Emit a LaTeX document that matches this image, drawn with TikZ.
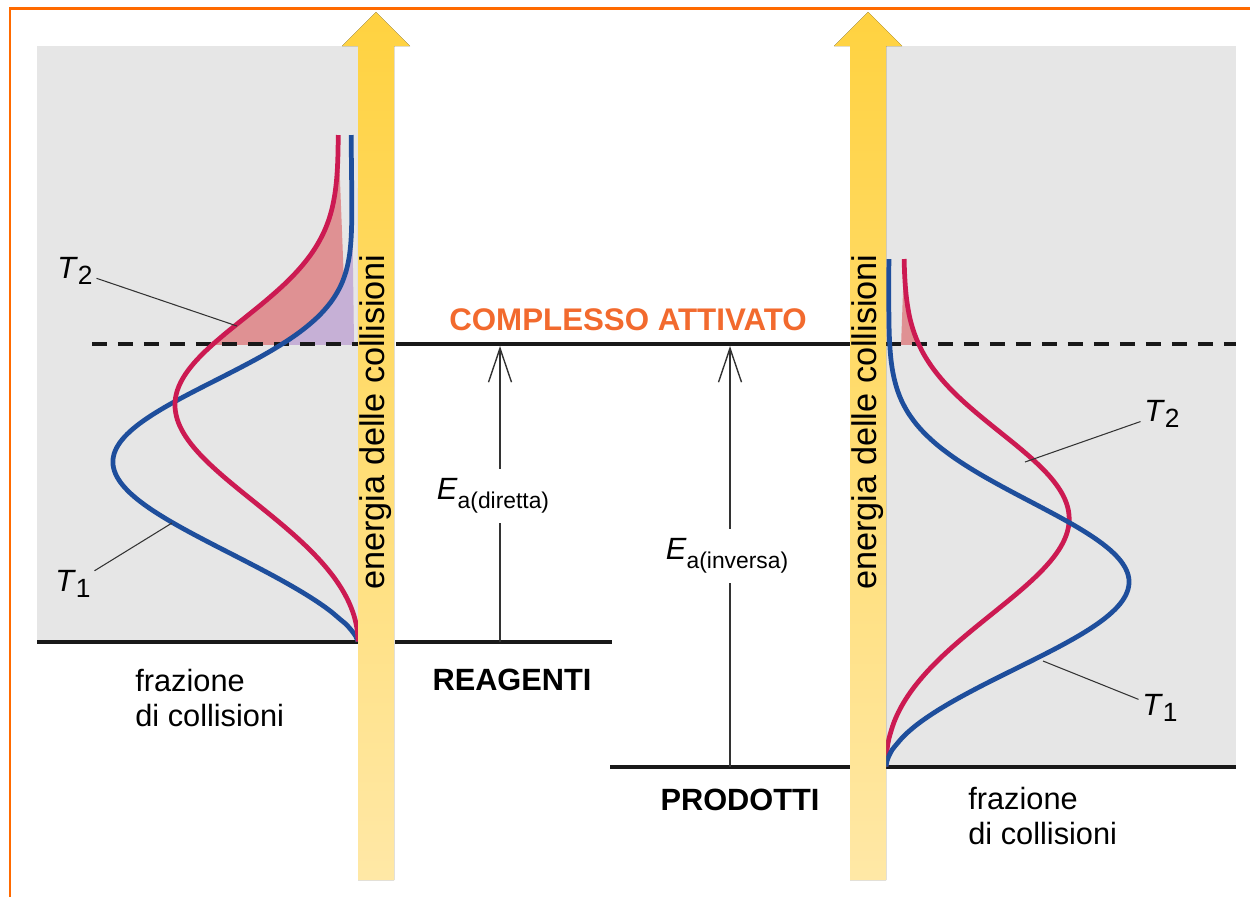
\documentclass[tikz,border=0pt]{standalone}
\usepackage{fontspec}
\setmainfont{Liberation Sans}
\usepackage{tikz}
\usetikzlibrary{arrows.meta,positioning,calc}
\usepackage{xcolor}
\definecolor{cborder}{HTML}{FF6A00}
\definecolor{cpanel}{HTML}{E6E6E6}
\definecolor{cred}{HTML}{CC1A52}
\definecolor{cblue}{HTML}{1E4E9C}
\definecolor{cpink}{HTML}{DF9193}
\definecolor{cpurple}{HTML}{C6B0D6}
\definecolor{corange}{HTML}{F26A2E}
\definecolor{cyeltop}{HTML}{FFD240}
\definecolor{cyelbot}{HTML}{FFE8A6}
\definecolor{cleader}{HTML}{333333}
\tikzset{
  panel/.style     = {fill=cpanel},
  level/.style     = {line width=2.5pt, black!90},
  dashlevel/.style = {line width=2.3pt, black!90, dash pattern=on 3mm off 2.2mm},
  curveTone/.style = {line width=2.7pt, cblue},
  curveTtwo/.style = {line width=2.7pt, cred},
  leader/.style    = {line width=0.6pt, cleader},
  ealine/.style    = {line width=0.8pt, cleader},
  eatip/.style     = {-{Straight Barb[length=6.8mm, width=4.6mm]}},
  yelarrow/.style  = {top color=cyeltop, bottom color=cyelbot, draw=none},
  lbl/.style       = {inner sep=0pt, align=left},
  tlbl/.style      = {inner sep=2pt},
  declare function = {
    mb(\en,\am,\bm,\pe,\qe) = \am*(\en/\bm)^\pe*exp((\pe/\qe)*(1-(\en/\bm)^\qe));
    tail(\en,\ce,\me,\we)   = \ce/(1+exp(-(\en-\me)/\we));
  },
}
\newcommand{\Ea}[1]{\textit{E}\raisebox{-5pt}{\fontsize{13}{13}\selectfont a(#1)}}
\newcommand{\Tlab}[1]{\textit{T}\raisebox{-3.5pt}{\fontsize{15}{15}\selectfont #1}}
% distribution curves: energy upwards, fraction away from the arrow
\newcommand{\pathToneL}{plot[variable=\e, domain=0.5:507, samples=90, smooth]
  ({358-mb(\e,245,180,1.5,3.3)-tail(\e,7,365,42)}, {642-\e})}
\newcommand{\pathTtwoL}{plot[variable=\e, domain=0.5:507, samples=90, smooth]
  ({358-mb(\e,182,236,2,3.5)-tail(\e,20,360,42)}, {642-\e})}
\newcommand{\pathToneR}{plot[variable=\e, domain=0.5:508, samples=90, smooth]
  ({886+mb(\e,243,185,1.8,3)+tail(\e,3,380,42)}, {767-\e})}
\newcommand{\pathTtwoR}{plot[variable=\e, domain=0.5:508, samples=90, smooth]
  ({886+mb(\e,182,247,2.2,3.5)+tail(\e,18,360,42)}, {767-\e})}

\begin{document}
\begin{tikzpicture}[x=0.02cm, y=-0.02cm, font=\fontsize{17.5}{19.5}\selectfont]
\useasboundingbox (0,0) rectangle (1250,897);
% ---- frame ----
\draw[cborder, line width=1.7pt] (10,897) -- (10,8) -- (1250,8);
% ---- grey panels ----
\fill[panel] (37,46) rectangle (358,642);
\fill[panel] (886,46) rectangle (1236,767);
% ---- areas above the activated complex ----
\begin{scope}
  \clip (0,0) rectangle (1250,344);
  \fill[cpink] \pathTtwoL -- (358,642) -- (358,135) -- cycle;
  \fill[cpurple] \pathToneL -- (358,642) -- (358,135) -- cycle;
  \fill[cpink] \pathTtwoR -- (886,767) -- (886,259) -- cycle;
  \fill[cpurple] \pathToneR -- (886,767) -- (886,259) -- cycle;
\end{scope}
% ---- levels ----
\draw[dashlevel] (92,344) -- (358,344);
\draw[dashlevel] (886,344) -- (1236,344);
\draw[level] (37,642) -- (358,642);
\draw[level] (396,344) -- (850,344);
\draw[level] (395,642) -- (612,642);
\draw[level] (610,767) -- (850,767);
\draw[level] (886,767) -- (1236,767);
% ---- curves ----
\draw[curveTone] \pathToneL;
\draw[curveTtwo] \pathTtwoL;
\draw[curveTtwo] \pathTtwoR;
\draw[curveTone] \pathToneR;
% ---- energy arrows ----
\fill[yelarrow] (358,880) -- (358,46) -- (342,46) -- (376,12) -- (410,46)
                -- (394,46) -- (394,880) -- cycle;
\fill[yelarrow] (850,880) -- (850,46) -- (834,46) -- (868,12) -- (902,46)
                -- (886,46) -- (886,880) -- cycle;
\node[rotate=90, font=\fontsize{19.5}{20}\selectfont] (enL) at (376,422)
      {energia delle collisioni};
\node[rotate=90, font=\fontsize{19.5}{20}\selectfont] (enR) at (868,422)
      {energia delle collisioni};
% ---- level labels ----
\node[lbl, corange, font=\fontsize{17.8}{19.5}\selectfont\bfseries] (complesso)
      at (628,320) {COMPLESSO ATTIVATO};
\node[lbl, font=\fontsize{17.5}{19.5}\selectfont\bfseries] (reagenti)
      at (512,680) {REAGENTI};
\node[lbl, font=\fontsize{17.5}{19.5}\selectfont\bfseries] (prodotti)
      at (740,800) {PRODOTTI};
\node[lbl, anchor=west] (frazL) at (135,698) {frazione\\di collisioni};
\node[lbl, anchor=west] (frazR) at (968,816) {frazione\\di collisioni};
% ---- activation energies ----
\coordinate (dirBot) at (500,642);
\coordinate (dirTop) at (500,346);
\node[inner xsep=0pt, inner ysep=5.5pt] (eaDir) at (493,496) {\Ea{diretta}};
\draw[ealine] (dirBot) -- (dirBot |- eaDir.south);
\draw[ealine, eatip] (dirBot |- eaDir.north) -- (dirTop);
\coordinate (invBot) at (730,767);
\coordinate (invTop) at (730,346);
\node[inner xsep=0pt, inner ysep=5.5pt] (eaInv) at (727,556) {\Ea{inversa}};
\draw[ealine] (invBot) -- (invBot |- eaInv.south);
\draw[ealine, eatip] (invBot |- eaInv.north) -- (invTop);
% ---- temperature labels ----
\coordinate (onTtwoL) at (237,326);
\coordinate (onToneL) at (172,523);
\coordinate (onTtwoR) at (1025,462);
\coordinate (onToneR) at (1043,661);
\node[tlbl] (tTwoL) at (75,271) {\Tlab{2}};
\node[tlbl] (tOneL) at (73,584) {\Tlab{1}};
\node[tlbl] (tTwoR) at (1162,414) {\Tlab{2}};
\node[tlbl] (tOneR) at (1160,708) {\Tlab{1}};
\draw[leader] (tTwoL) -- (onTtwoL);
\draw[leader] (tOneL) -- (onToneL);
\draw[leader] (tTwoR) -- (onTtwoR);
\draw[leader] (tOneR) -- (onToneR);
\end{tikzpicture}
\end{document}
